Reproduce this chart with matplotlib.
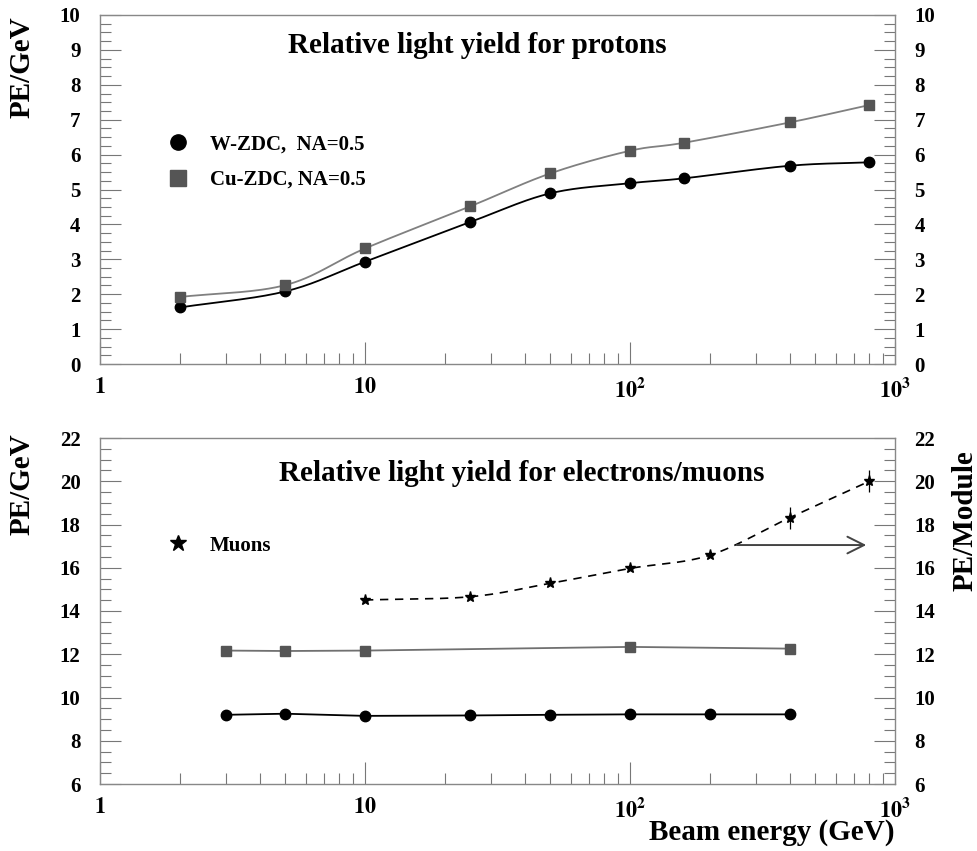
import numpy as np
import matplotlib
matplotlib.use("Agg")
import matplotlib.pyplot as plt
from matplotlib.ticker import FixedLocator, MultipleLocator, FixedFormatter
from matplotlib.lines import Line2D

plt.rcParams['font.family'] = ['Liberation Serif', 'DejaVu Serif']
plt.rcParams['font.weight'] = 'bold'
plt.rcParams['mathtext.fontset'] = 'stix'

# protons (top panel)
p_energy_w = [2, 5, 10, 25, 50, 100, 160, 400, 800]
p_yield_w = [1.62, 2.08, 2.93, 4.07, 4.89, 5.18, 5.32, 5.68, 5.78]
p_energy_cu = [2, 5, 10, 25, 50, 100, 160, 400, 800]
p_yield_cu = [1.92, 2.26, 3.31, 4.52, 5.46, 6.11, 6.34, 6.92, 7.42]

# electrons / muons (bottom panel)
e_energy_w = [3, 5, 10, 25, 50, 100, 200, 400]
e_yield_w = [9.2, 9.25, 9.15, 9.17, 9.2, 9.22, 9.22, 9.22]
e_energy_cu = [3, 5, 10, 100, 400]
e_yield_cu = [12.17, 12.15, 12.17, 12.34, 12.26]
mu_energy = [10, 25, 50, 100, 200, 400, 800]
mu_yield = [14.51, 14.66, 15.28, 15.97, 16.58, 18.31, 20.0]
mu_err = [0, 0, 0, 0, 0, 0.5, 0.5]
arrow_from = (247, 17.05)
arrow_to = (798, 17.05)

x_ticks = [1, 10, 100, 1000]
x_labels = [r'$\mathbf{1}$', r'$\mathbf{10}$', r'$\mathbf{10^{2}}$', r'$\mathbf{10^{3}}$']


def smooth(xs, ys, n=30):
    # catmull-rom through the points, in log-x
    lx = np.log10(xs)
    y = np.asarray(ys, float)
    px = np.concatenate([[2 * lx[0] - lx[1]], lx, [2 * lx[-1] - lx[-2]]])
    py = np.concatenate([[2 * y[0] - y[1]], y, [2 * y[-1] - y[-2]]])
    outx, outy = [], []
    for i in range(1, len(px) - 2):
        t = np.linspace(0, 1, n)
        for arr, out in ((px, outx), (py, outy)):
            p0, p1, p2, p3 = arr[i - 1], arr[i], arr[i + 1], arr[i + 2]
            out.extend(0.5 * (2 * p1 + (-p0 + p2) * t + (2 * p0 - 5 * p1 + 4 * p2 - p3) * t ** 2
                              + (-p0 + 3 * p1 - 3 * p2 + p3) * t ** 3))
    return 10 ** np.array(outx), np.array(outy)


def style_axes(ax, ymin, ymax, major, minor):
    ax.set_xscale('log')
    ax.set_xlim(1, 1000)
    ax.set_ylim(ymin, ymax)
    ax.xaxis.set_major_locator(FixedLocator(x_ticks))
    ax.xaxis.set_major_formatter(FixedFormatter(x_labels))
    ax.xaxis.set_minor_locator(FixedLocator([m * d for d in (1, 10, 100) for m in range(2, 10)]))
    ax.xaxis.set_minor_formatter(FixedFormatter([]))
    ax.yaxis.set_major_locator(MultipleLocator(major))
    ax.yaxis.set_minor_locator(MultipleLocator(minor))
    ax.tick_params(axis='x', which='major', direction='in', length=16, width=0.8,
                   color='#777777', labelsize=16, pad=10, top=False)
    ax.tick_params(axis='x', which='minor', direction='in', length=8, width=0.8,
                   color='#777777', top=False)
    ax.tick_params(axis='y', which='major', direction='in', length=15, width=0.8,
                   color='#777777', labelsize=15, pad=14, left=True, right=True,
                   labelleft=True, labelright=True)
    ax.tick_params(axis='y', which='minor', direction='in', length=8, width=0.8,
                   color='#777777', left=True, right=True)
    for lab in ax.get_yticklabels():
        lab.set_fontweight('bold')
    for s in ax.spines.values():
        s.set_color('#888888')
        s.set_linewidth(1.0)


fig = plt.figure(figsize=(9.78, 8.51), dpi=100)
ax1 = fig.add_axes([100 / 978, 1 - 364 / 851, 795 / 978, 349 / 851])
ax2 = fig.add_axes([100 / 978, 1 - 784 / 851, 795 / 978, 346 / 851])

# top panel
sx, sy = smooth(p_energy_w, p_yield_w)
ax1.plot(sx, sy, color='black', lw=1.3)
sx, sy = smooth(p_energy_cu, p_yield_cu)
ax1.plot(sx, sy, color='#808080', lw=1.3)
ax1.plot(p_energy_w, p_yield_w, 'o', color='black', ms=7.5)
ax1.plot(p_energy_cu, p_yield_cu, 's', color='#555555', ms=7)
style_axes(ax1, 0, 10, 1, 0.25)
fig.text(22 / 978, 1 - 67 / 851, 'PE/GeV', rotation=90, ha='center', va='center',
         fontsize=21, fontweight='bold')
ax1.text(0.474, 0.914, 'Relative light yield for protons', transform=ax1.transAxes,
         ha='center', va='center', fontsize=21, fontweight='bold')
h1 = [Line2D([], [], ls='none', marker='o', color='black', ms=11),
      Line2D([], [], ls='none', marker='s', color='#555555', ms=11)]
ax1.legend(h1, ['W-ZDC,  NA=0.5', 'Cu-ZDC, NA=0.5'], loc='upper left',
           bbox_to_anchor=(0.062, 0.712), frameon=False, fontsize=15,
           handletextpad=1.0, labelspacing=0.75, handlelength=1.0)

# bottom panel
ax2.plot(e_energy_w, e_yield_w, '-o', color='black', ms=7.5, lw=1.3)
ax2.plot(e_energy_cu, e_yield_cu, '-', color='#707070', lw=1.3)
ax2.plot(e_energy_cu, e_yield_cu, 's', color='#555555', ms=7)
sx, sy = smooth(mu_energy, mu_yield)
ax2.plot(sx, sy, color='black', lw=1.2, ls=(0, (5, 4)))
ax2.errorbar(mu_energy, mu_yield, yerr=mu_err, fmt='*', color='black', ms=8,
             elinewidth=0.9, capsize=0)
ax2.annotate('', xy=arrow_to, xytext=arrow_from,
             arrowprops=dict(arrowstyle='->', color='#444444', lw=1.4, mutation_scale=30))
style_axes(ax2, 6, 22, 2, 0.5)
fig.text(22 / 978, 1 - 484 / 851, 'PE/GeV', rotation=90, ha='center', va='center',
         fontsize=21, fontweight='bold')
ax2.text(0.530, 0.896, 'Relative light yield for electrons/muons', transform=ax2.transAxes,
         ha='center', va='center', fontsize=21, fontweight='bold')
fig.text(965 / 978, 1 - 521 / 851, 'PE/Module', rotation=90, ha='center', va='center',
         fontsize=21, fontweight='bold')
fig.text(895 / 978, 1 - 832 / 851, 'Beam energy (GeV)', ha='right', va='center',
         fontsize=21, fontweight='bold')
h2 = [Line2D([], [], ls='none', marker='*', color='black', ms=12)]
ax2.legend(h2, ['Muons'], loc='upper left', bbox_to_anchor=(0.062, 0.772), frameon=False,
           fontsize=15, handletextpad=1.0, handlelength=1.0)

fig.savefig('out.png', dpi=100)
